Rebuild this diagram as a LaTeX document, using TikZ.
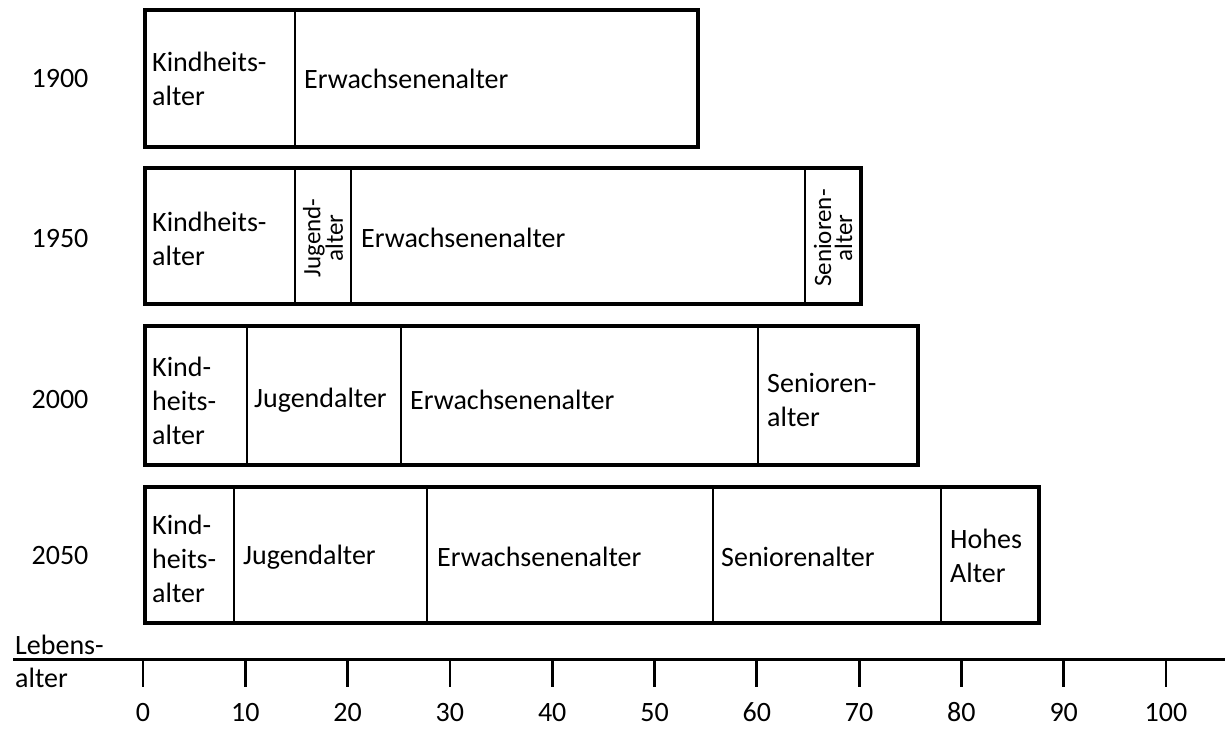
\documentclass[tikz,border=0pt]{standalone}
\usepackage{fontspec}
\setmainfont{Carlito}
\usetikzlibrary{positioning}
\tikzset{
  frame/.style={line width=3.2pt},
  divider/.style={line width=2.6pt},
  axline/.style={line width=3pt},
  axtick/.style={line width=2.8pt},
  lbl/.style={anchor=west, inner sep=0pt, align=left, font=\fontsize{28}{34}\selectfont},
  vlbl/.style={rotate=90, inner sep=0pt, align=center, font=\fontsize{25}{21}\selectfont},
  yr/.style={inner sep=0pt, font=\fontsize{28}{34}\selectfont}
}
\begin{document}
\begin{tikzpicture}[x=1pt, y=-1pt]
  \useasboundingbox (0,0) rectangle (1225,728);
  % rows: top / bottom / right end / inner dividers
  \foreach \top/\bot/\rgt/\divs in {10/147/698/{295},
      168/304/861/{295,351,805},
      326/465/918/{247,401,758},
      487/623/1039/{234,427,713,941}} {
    \foreach \d in \divs
      \draw[divider] (\d,\top) -- (\d,\bot);
    \draw[frame] (145,\top) rectangle (\rgt,\bot);
  }
  % 1900
  \node[yr] (y1900) at (60,79) {1900};
  \node[lbl] (k1900) at (152,79) {Kindheits-\\alter};
  \node[lbl] (e1900) at (304,79) {Erwachsenenalter};
  % 1950
  \node[yr] (y1950) at (60,239) {1950};
  \node[lbl] (k1950) at (152,239) {Kindheits-\\alter};
  \node[vlbl] (j1950) at (323,238) {Jugend-\\alter};
  \node[lbl] (e1950) at (361,238) {Erwachsenenalter};
  \node[vlbl] (s1950) at (833,238) {Senioren-\\alter};
  % 2000
  \node[yr] (y2000) at (60,400) {2000};
  \node[lbl] (k2000) at (152,401) {Kind-\\heits-\\alter};
  \node[lbl] (j2000) at (254,400) {Jugendalter};
  \node[lbl] (e2000) at (410,400) {Erwachsenenalter};
  \node[lbl] (s2000) at (767,400) {Senioren-\\alter};
  % 2050
  \node[yr] (y2050) at (60,556) {2050};
  \node[lbl] (k2050) at (152,559) {Kind-\\heits-\\alter};
  \node[lbl] (j2050) at (243,557) {Jugendalter};
  \node[lbl] (e2050) at (437,557) {Erwachsenenalter};
  \node[lbl] (s2050) at (721,557) {Seniorenalter};
  \node[lbl] (h2050) at (950,556) {Hohes\\Alter};
  % axis
  \coordinate (axL) at (13,659);
  \coordinate (axR) at (1225,659);
  \draw[axline] (axL) -- (axR);
  \node[lbl] (leb1) at (15,645) {Lebens-};
  \node[lbl] (leb2) at (15,678) {alter};
  \foreach \k in {0,...,10} {
    \pgfmathsetmacro{\xx}{143+102.3*\k}
    \draw[axtick] (\xx,659) -- (\xx,687);
    \pgfmathtruncatemacro{\val}{10*\k}
    \node[yr] (n\k) at (\xx,712) {\val};
  }
\end{tikzpicture}
\end{document}
